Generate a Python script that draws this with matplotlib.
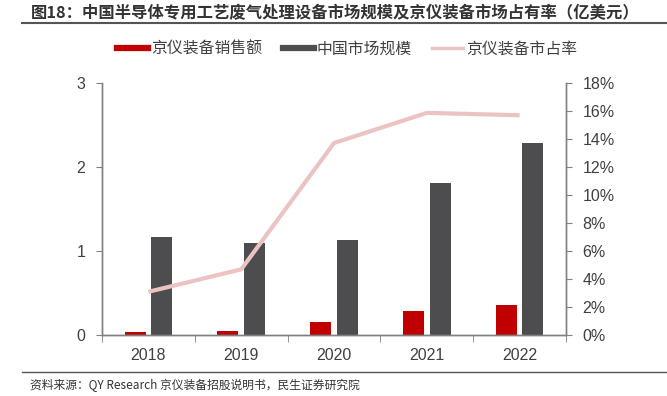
import matplotlib
matplotlib.use("Agg")
import matplotlib.pyplot as plt
from matplotlib.lines import Line2D
import numpy as np

plt.rcParams['font.family'] = ['Noto Sans CJK SC', 'DejaVu Sans']

years = ["2018", "2019", "2020", "2021", "2022"]
jingyi_sales = [0.035, 0.055, 0.155, 0.285, 0.355]
china_market = [1.17, 1.10, 1.13, 1.81, 2.28]
share_pct = [3.1, 4.7, 13.7, 15.85, 15.68]

title = "图18：中国半导体专用工艺废气处理设备市场规模及京仪装备市场占有率（亿美元）"
source = "资料来源：QY Research 京仪装备招股说明书，民生证券研究院"
series_names = ["京仪装备销售额", "中国市场规模", "京仪装备市占率"]

RED = "#C00000"
DARK = "#4D4D4F"
PINK = "#EBC3C3"
GRAY = "#808080"
TXT = "#404040"
NUMFONT = ['Liberation Sans', 'DejaVu Sans']

fig = plt.figure(figsize=(6.67, 3.96), dpi=100)
ax = fig.add_axes([102/667, 1-335.3/396, (566-102)/667, (335.3-82.7)/396])
ax2 = ax.twinx()

x = np.arange(len(years))
w = 0.225
off = 0.143
ax.bar(x - off, jingyi_sales, w, color=RED, zorder=2)
ax.bar(x + off, china_market, w, color=DARK, zorder=2)
ax2.plot(x, share_pct, color=PINK, lw=3, zorder=3, solid_capstyle='butt')

ax.set_xlim(-0.5, len(years) - 0.5)
ax.set_ylim(0, 3)
ax.set_yticks([0, 1, 2, 3])
ax2.set_ylim(0, 18)
ax2.set_yticks(range(0, 19, 2))
ax2.set_yticklabels([f"{v}%" for v in range(0, 19, 2)])

ax.set_xticks(x)
ax.set_xticklabels(years)
ax.set_xticks(np.arange(-0.5, len(years), 1), minor=True)
ax.tick_params(axis='x', which='major', length=0, pad=9, labelsize=11.5, labelcolor=TXT)
ax.tick_params(axis='x', which='minor', length=5, color=GRAY, direction='out')
ax.tick_params(axis='y', length=4, color=GRAY, labelsize=11.5, labelcolor=TXT, pad=8)
ax2.tick_params(axis='y', length=4, color=GRAY, labelsize=11.5, labelcolor=TXT, pad=8)
for lab in ax.get_xticklabels() + ax.get_yticklabels() + ax2.get_yticklabels():
    lab.set_family(NUMFONT)

for a in (ax, ax2):
    a.spines['top'].set_visible(False)
    for s in ('left', 'right', 'bottom'):
        a.spines[s].set_color(GRAY)
        a.spines[s].set_linewidth(1)

# legend
handles = [
    Line2D([0], [0], color=RED, lw=4.5),
    Line2D([0], [0], color=DARK, lw=4.5),
    Line2D([0], [0], color=PINK, lw=2.5),
]
fig.legend(handles, series_names, loc='center', bbox_to_anchor=(347.5/667, 1-49/396),
           ncol=3, frameon=False, fontsize=11.4, handlelength=1.96, columnspacing=1.27,
           handletextpad=0.2, labelcolor=TXT)

# title
fig.text(31/667, 1-13/396, title, fontsize=11.75, fontweight='bold', color='#333333',
         va='center', ha='left')
fig.add_artist(Line2D([22/667, 1.0], [1-23/396, 1-23/396], color='#555555', lw=1.5,
                      transform=fig.transFigure))
# footer
fig.add_artist(Line2D([22/667, 1.0], [1-372/396, 1-372/396], color='#555555', lw=1,
                      transform=fig.transFigure))
fig.text(30/667, 1-385/396, source, fontsize=8.5, color='#333333', va='center', ha='left')

fig.savefig("out.png", dpi=100)
